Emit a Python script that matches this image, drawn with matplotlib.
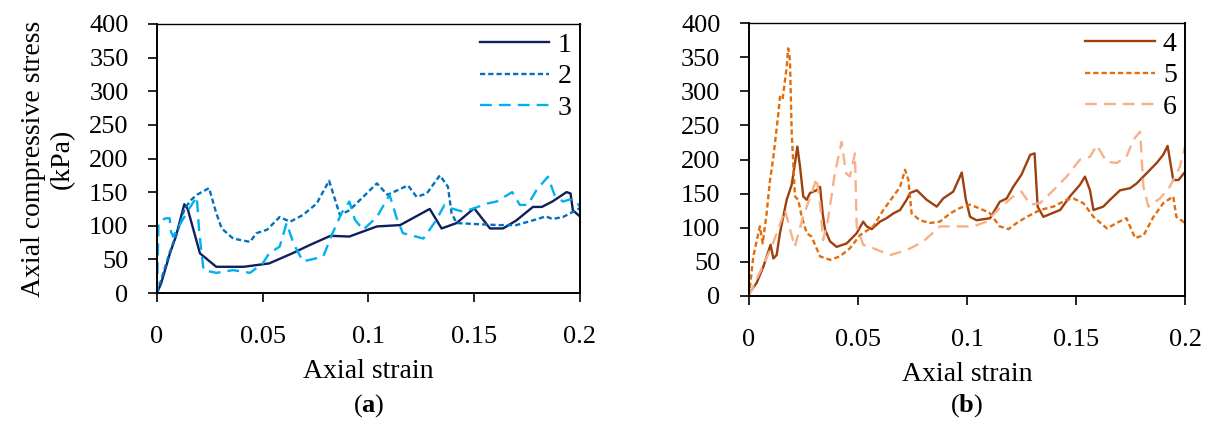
import matplotlib
matplotlib.use("Agg")
import matplotlib.pyplot as plt
from matplotlib.ticker import FuncFormatter, MultipleLocator

plt.rcParams["font.family"] = ["Liberation Serif", "DejaVu Serif"]
plt.rcParams["mathtext.fontset"] = "custom"
plt.rcParams["mathtext.rm"] = "Liberation Serif"
plt.rcParams["mathtext.bf"] = "Liberation Serif:bold"

# panel (a)
strain_1 = [0, 0.002, 0.0061, 0.009, 0.0129, 0.0145, 0.0203, 0.028, 0.041, 0.053, 0.064, 0.072,
            0.082, 0.091, 0.104, 0.115, 0.129, 0.1346, 0.1417, 0.150, 0.1575, 0.1637, 0.170,
            0.1778, 0.182, 0.187, 0.1937, 0.1956, 0.1967, 0.2]
stress_1 = [0, 15, 59, 85, 132, 125, 59, 39, 39, 44, 59, 71,
            85, 84, 99, 101, 125, 96, 104, 126, 96, 96, 108,
            128, 128, 136, 150, 148, 123, 114]

strain_2 = [0, 0.002, 0.006, 0.01, 0.013, 0.016, 0.0188, 0.0246, 0.028, 0.0306, 0.036, 0.044,
            0.047, 0.052, 0.058, 0.063, 0.069, 0.0755, 0.0814, 0.0865, 0.091, 0.0975, 0.104,
            0.109, 0.1187, 0.1228, 0.1276, 0.1338, 0.1376, 0.1393, 0.1417, 0.154, 0.162,
            0.170, 0.1778, 0.184, 0.187, 0.192, 0.2]
stress_2 = [0, 20, 60, 95, 125, 138, 146, 156, 119, 96, 81, 76,
            89, 94, 113, 106, 116, 133, 167, 116, 123, 143, 163,
            146, 160, 143, 148, 175, 158, 119, 104, 102, 101,
            101, 108, 114, 110, 113, 126]

strain_3 = [0, 0.0007, 0.0038, 0.006, 0.0066, 0.0076, 0.0147, 0.0188, 0.020, 0.022, 0.028, 0.036,
            0.044, 0.050, 0.053, 0.058, 0.0613, 0.0645, 0.069, 0.0786, 0.0826, 0.0873, 0.091,
            0.0936, 0.0975, 0.104, 0.110, 0.1134, 0.1163, 0.126, 0.132, 0.136, 0.139, 0.1447,
            0.150, 0.156, 0.1606, 0.168, 0.1716, 0.1754, 0.1795, 0.1849, 0.188, 0.192, 0.1953,
            0.1984, 0.2]
stress_3 = [0, 104, 111, 111, 91, 84, 123, 143, 89, 34, 30, 34,
            30, 44, 59, 69, 104, 74, 47, 54, 86, 119, 136,
            109, 94, 113, 146, 111, 89, 81, 108, 131, 126, 121,
            126, 133, 136, 150, 131, 131, 153, 173, 146, 136, 139,
            136, 128]

# panel (b)
strain_4 = [0, 0.0035, 0.0066, 0.0099, 0.0112, 0.0127, 0.0142, 0.0157, 0.0173, 0.0196, 0.0211,
            0.0222, 0.0234, 0.0249, 0.0265, 0.028, 0.031, 0.0326, 0.0338, 0.0349, 0.0372, 0.0402,
            0.0448, 0.0494, 0.0524, 0.054, 0.0563, 0.0601, 0.0631, 0.0662, 0.0693, 0.0723,
            0.0739, 0.077, 0.0815, 0.0861, 0.0891, 0.0937, 0.0976, 0.0995, 0.1014, 0.1044,
            0.1106, 0.115, 0.1182, 0.1212, 0.125, 0.129, 0.131, 0.1324, 0.135, 0.1388, 0.1427,
            0.1472, 0.1518, 0.1541, 0.1564, 0.158, 0.1625, 0.1656, 0.1702, 0.1748, 0.1778,
            0.1824, 0.187, 0.19, 0.192, 0.1946, 0.197, 0.2]
stress_4 = [4, 19, 43, 75, 55, 60, 92, 116, 141, 163, 195,
            219, 190, 146, 141, 151, 155, 160, 121, 97, 80, 72,
            77, 92, 109, 102, 98, 109, 114, 121, 126, 141,
            151, 155, 141, 131, 143, 153, 181, 141, 116, 111,
            114, 138, 143, 160, 178, 207, 209, 131, 116, 121, 126,
            146, 163, 175, 155, 126, 131, 141, 155, 158, 165,
            180, 195, 207, 220, 170, 170, 182]

strain_5 = [0, 0.002, 0.005, 0.0063, 0.0081, 0.0096, 0.0112, 0.0135, 0.0142, 0.0154, 0.0173,
            0.018, 0.0188, 0.0196, 0.0211, 0.0226, 0.0242, 0.0265, 0.0287, 0.0326, 0.0372,
            0.0417, 0.0463, 0.0509, 0.057, 0.0616, 0.0662, 0.0693, 0.0716, 0.0731, 0.0746,
            0.0784, 0.083, 0.0876, 0.0922, 0.0968, 0.1014, 0.1075, 0.1106, 0.115, 0.119,
            0.1228, 0.1274, 0.1335, 0.1396, 0.1457, 0.1488, 0.1534, 0.158, 0.1642, 0.1686,
            0.1731, 0.1771, 0.181, 0.1855, 0.19, 0.1946, 0.196, 0.2]
stress_5 = [0, 58, 102, 77, 121, 168, 204, 268, 292, 288, 336,
            363, 346, 239, 146, 141, 116, 92, 87, 58, 53,
            58, 70, 89, 102, 126, 146, 160, 185, 170, 121,
            111, 107, 109, 121, 129, 134, 126, 121, 102, 98,
            107, 116, 126, 131, 141, 143, 136, 116, 99, 107,
            114, 85, 89, 116, 136, 146, 116, 107]

strain_6 = [0, 0.004, 0.0104, 0.0133, 0.0165, 0.021, 0.0248, 0.0288, 0.031, 0.0326, 0.034,
            0.0362, 0.0394, 0.0425, 0.0445, 0.0463, 0.0486, 0.0494, 0.0524, 0.057, 0.0647,
            0.0723, 0.08, 0.0876, 0.0953, 0.1029, 0.109, 0.115, 0.1212, 0.125, 0.129, 0.1335,
            0.1396, 0.1457, 0.1518, 0.1564, 0.1595, 0.164, 0.1686, 0.1731, 0.1763, 0.1794,
            0.1809, 0.1832, 0.1885, 0.193, 0.1977, 0.2]
stress_6 = [0, 28, 72, 97, 126, 72, 116, 151, 173, 136, 82,
            111, 180, 226, 180, 175, 209, 102, 75, 70, 60,
            67, 80, 102, 102, 102, 109, 129, 146, 153, 134, 136,
            155, 175, 200, 204, 221, 197, 195, 204, 229, 241,
            160, 131, 143, 160, 190, 219]

labels_a = ["1", "2", "3"]
labels_b = ["4", "5", "6"]
colors_a = ["#0F1F5C", "#0070C0", "#00B0F0"]
colors_b = ["#9E3F0E", "#E46C0A", "#F9B088"]
styles = ["-", (0, (2.2, 1.3)), (0, (5, 3))]


def style_axis(ax):
    ax.set_xlim(0, 0.2)
    ax.set_ylim(0, 400)
    ax.xaxis.set_major_locator(MultipleLocator(0.05))
    ax.yaxis.set_major_locator(MultipleLocator(50))
    ax.xaxis.set_major_formatter(FuncFormatter(lambda v, p: f"{v:g}"))
    ax.tick_params(direction="out", length=6.5, width=1.2, labelsize=19,
                   colors="black")
    ax.tick_params(axis="x", pad=17)
    ax.tick_params(axis="y", pad=14)
    for side in ["left", "bottom", "right"]:
        ax.spines[side].set_linewidth(1.4)
    ax.spines["top"].set_linewidth(1.0)
    ax.set_xlabel("Axial strain", fontsize=20, labelpad=8)
    ax.legend(loc="upper right", frameon=False, fontsize=20, handlelength=2.5,
              handletextpad=0.3, labelspacing=0.22, borderaxespad=0.1,
              borderpad=0.2)


fig = plt.figure(figsize=(12.08, 4.21), dpi=100)
ax1 = fig.add_axes([0.130, 0.304, 0.350, 0.639])
ax2 = fig.add_axes([0.620, 0.297, 0.361, 0.648])

data_a = [(strain_1, stress_1), (strain_2, stress_2), (strain_3, stress_3)]
data_b = [(strain_4, stress_4), (strain_5, stress_5), (strain_6, stress_6)]

for (x, y), lab, c, ls in zip(data_a, labels_a, colors_a, styles):
    ax1.plot(x, y, color=c, linestyle=ls, linewidth=1.7, label=lab)
for (x, y), lab, c, ls in zip(data_b, labels_b, colors_b, styles):
    ax2.plot(x, y, color=c, linestyle=ls, linewidth=1.7, label=lab)

style_axis(ax1)
style_axis(ax2)
ax1.set_ylabel("Axial compressive stress\n(kPa)", fontsize=20, linespacing=1.2, labelpad=10)

fig.text(0.305, 0.037, r"($\mathbf{a}$)", ha="center", va="center", fontsize=19)
fig.text(0.800, 0.037, r"($\mathbf{b}$)", ha="center", va="center", fontsize=19)

fig.savefig("out.png", dpi=100)
